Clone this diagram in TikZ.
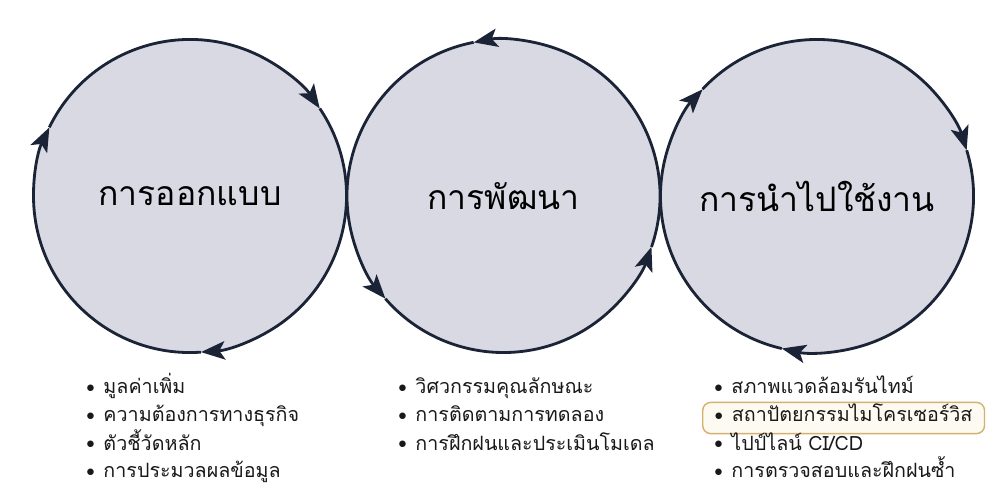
\documentclass[tikz,border=0pt]{standalone}
\usepackage{fontspec}
\newfontfamily\thaifont[Script=Thai]{Loma}
\usepackage{tikz}
\usetikzlibrary{arrows.meta, positioning}
\usepackage{xcolor}
\definecolor{ringfill}{RGB}{216,217,227}
\definecolor{ringline}{RGB}{27,35,54}
\definecolor{hiline}{RGB}{214,176,112}
\definecolor{hifill}{RGB}{253,250,242}
\newcommand{\bul}{\makebox[0.43cm][l]{\raisebox{0.8pt}{\fontsize{12}{12}\selectfont$\bullet$}}}

\begin{document}
\begin{tikzpicture}[
    x=0.025cm, y=0.025cm,
    phase/.style={circle, fill=ringfill, minimum size=7.825cm, inner sep=0pt, outer sep=0pt, font=\thaifont\fontsize{24}{28}\selectfont},
    ring/.style={draw=ringline, line width=2pt, -{Stealth[length=0.6cm, width=0.46cm, inset=0.14cm]}},
    item/.style={anchor=base west, inner sep=0pt, text height=0.3cm, text depth=0.1cm, font=\thaifont\fontsize{14}{16}\selectfont, text=black!90},
    hilite/.style={item, draw=hiline, fill=hifill, line width=1pt, rounded corners=0.2cm, inner xsep=0.3cm, inner ysep=0.19cm}
]
    \useasboundingbox [fill=white] (0,0) rectangle (1000,500);

    \node [phase] (design) at (190,304) {การออกแบบ};
    \node [phase] (develop) at (503.5,304) {การพัฒนา};
    \node [phase] (deploy) at (817,304) {การนำไปใช้งาน};

    % rings: clockwise, counter-clockwise, clockwise
    \foreach \a in {154,34,274}
        \draw [ring] (design.\a) arc [start angle=\a, end angle=\a-120, radius=156.5];
    \foreach \a in {341,101,221}
        \draw [ring] (develop.\a) arc [start angle=\a, end angle=\a+120, radius=156.5];
    \foreach \a in {257,137,17}
        \draw [ring] (deploy.\a) arc [start angle=\a, end angle=\a-120, radius=156.5];

    % design
    \node [item] (d1) at (86,106) {\bul มูลค่าเพิ่ม};
    \node [item] (d2) at (86,78) {\bul ความต้องการทางธุรกิจ};
    \node [item] (d3) at (86,50) {\bul ตัวชี้วัดหลัก};
    \node [item] (d4) at (86,22) {\bul การประมวลผลข้อมูล};

    % development
    \node [item] (m1) at (398,106) {\bul วิศวกรรมคุณลักษณะ};
    \node [item] (m2) at (398,78) {\bul การติดตามการทดลอง};
    \node [item] (m3) at (398,50) {\bul การฝึกฝนและประเมินโมเดล};

    % deployment
    \node [item] (p1) at (714,106) {\bul สภาพแวดล้อมรันไทม์};
    \node [hilite] (p2) at (702,78) {\bul สถาปัตยกรรมไมโครเซอร์วิส};
    \node [item] (p3) at (714,50) {\bul ไปป์ไลน์ CI/CD};
    \node [item] (p4) at (714,22) {\bul การตรวจสอบและฝึกฝนซ้ำ};
\end{tikzpicture}
\end{document}
